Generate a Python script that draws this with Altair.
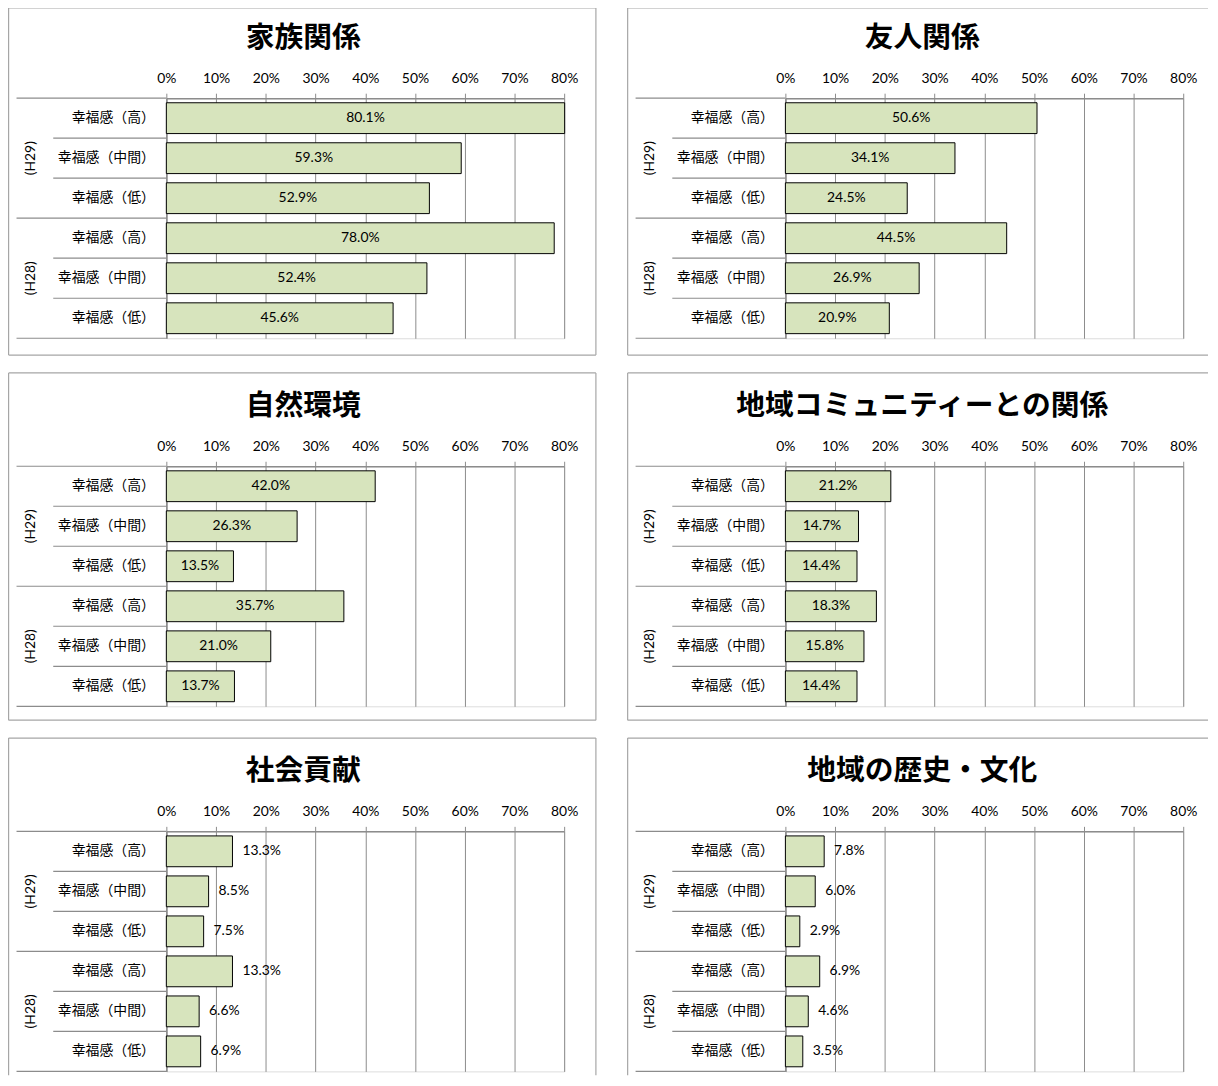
import altair as alt
import pandas as pd

# ---- data ----
titles = ["家族関係", "友人関係", "自然環境", "地域コミュニティーとの関係", "社会貢献", "地域の歴史・文化"]
years = ["(H29)", "(H28)"]
levels = ["幸福感（高）", "幸福感（中間）", "幸福感（低）"]

v_family = [80.1, 59.3, 52.9, 78.0, 52.4, 45.6]
v_friends = [50.6, 34.1, 24.5, 44.5, 26.9, 20.9]
v_nature = [42.0, 26.3, 13.5, 35.7, 21.0, 13.7]
v_community = [21.2, 14.7, 14.4, 18.3, 15.8, 14.4]
v_social = [13.3, 8.5, 7.5, 13.3, 6.6, 6.9]
v_history = [7.8, 6.0, 2.9, 6.9, 4.6, 3.5]
series = [v_family, v_friends, v_nature, v_community, v_social, v_history]
labels_outside = [False, False, False, False, True, True]
x_ticks = [0, 10, 20, 30, 40, 50, 60, 70, 80]

# ---- style ----
FILL = "#D7E4BD"
GRAY = "#8C8C8C"
BORDER = "#A6A6A6"
JP = "Noto Sans CJK JP"
NUM = "Lato"
W, H = 401, 242

keys = [f"{y}|{l}" for y in years for l in levels]


def panel(title, vals, outside, col, row):
    df = pd.DataFrame({
        "key": keys,
        "year": [y for y in years for _ in levels],
        "level": levels * 2,
        "first": [i == 0 for _ in years for i in range(len(levels))],
        "last": [False] * (len(keys) - 1) + [True],
        "value": vals,
    })
    yscale = alt.Scale(domain=keys, paddingInner=0, paddingOuter=0)
    xscale = alt.Scale(domain=[0, 80], nice=False, zero=True)
    yaxis = alt.Axis(
        title=None, labelExpr="split(datum.label, '|')[1]", ticks=False,
        labelPadding=12, labelFont=JP, labelFontSize=14, labelColor="black",
        domainColor=GRAY, domainWidth=1.5, grid=False,
    )
    xaxis = alt.Axis(
        title=None, orient="top", values=x_ticks, labelExpr="datum.value + '%'",
        labelFont=NUM, labelFontSize=14, labelColor="black", labelPadding=8,
        labelFlush=False, labelOverlap=False,
        tickSize=5, tickColor=GRAY, domainColor=GRAY, domainWidth=1.5,
        grid=True, gridColor=GRAY, gridWidth=1,
    )

    def yenc(**kw):
        return alt.Y("key:N", scale=yscale, axis=yaxis, **kw)

    def xenc(field):
        return alt.X(field, scale=xscale, axis=xaxis)

    base = alt.Chart(df)

    bars = base.mark_bar(
        fill=FILL, stroke="black", strokeWidth=1,
        height=alt.RelativeBandSize(band=0.77),
    ).encode(x=xenc("value:Q"), y=yenc())

    if outside:
        txt = base.transform_calculate(
            lab="format(datum.value, '.1f') + '%'"
        ).mark_text(font=NUM, fontSize=14, color="black", align="left", dx=10).encode(
            x=xenc("value:Q"), y=yenc(), text="lab:N")
    else:
        txt = base.transform_calculate(
            lab="format(datum.value, '.1f') + '%'", mid="datum.value / 2"
        ).mark_text(font=NUM, fontSize=14, color="black", align="center").encode(
            x=xenc("mid:Q"), y=yenc(), text="lab:N")

    rule_cat = base.transform_filter("!datum.first").mark_rule(
        color=GRAY, strokeWidth=1.2).encode(
        y=yenc(bandPosition=0), x=alt.value(-114), x2=alt.value(0))
    rule_grp = base.transform_filter("datum.first").mark_rule(
        color=GRAY, strokeWidth=1.2).encode(
        y=yenc(bandPosition=0), x=alt.value(-151), x2=alt.value(0))
    rule_bot = base.transform_filter("datum.last").mark_rule(
        color=GRAY, strokeWidth=1.2).encode(
        y=yenc(bandPosition=1), x=alt.value(-151), x2=alt.value(0))

    grp = base.transform_filter("datum.level == '幸福感（中間）'").mark_text(
        font=NUM, fontSize=14, color="black", angle=270, align="center",
        baseline="middle").encode(x=alt.value(-136), y=yenc(), text="year:N")

    one = alt.Chart(pd.DataFrame({"t": [title]}))
    ttl = one.mark_text(font=JP, fontSize=29, fontWeight="bold", color="black",
                        align="center", baseline="middle").encode(
        x=alt.value(138), y=alt.value(-61), text="t:N")

    # panel frame (right column is cut by the page edge, last row by the page bottom)
    left = -159
    top = -91 if row == 0 else -94
    right = 433 if col == 0 else 426
    bottom = {0: 259, 1: 256, 2: 246}[row]
    frame = [
        one.mark_rule(color=BORDER, strokeWidth=1.2).encode(
            x=alt.value(left), x2=alt.value(right), y=alt.value(top)),
        one.mark_rule(color=BORDER, strokeWidth=1.2).encode(
            x=alt.value(left), y=alt.value(top), y2=alt.value(bottom)),
    ]
    if col == 0:
        frame.append(one.mark_rule(color=BORDER, strokeWidth=1.2).encode(
            x=alt.value(right), y=alt.value(top), y2=alt.value(bottom)))
    if row < 2:
        frame.append(one.mark_rule(color=BORDER, strokeWidth=1.2).encode(
            x=alt.value(left), x2=alt.value(right), y=alt.value(bottom)))

    return alt.layer(*frame, bars, txt, rule_cat, rule_grp, rule_bot, grp, ttl).properties(
        width=W, height=H)


panels = [panel(t, v, o, i % 2, i // 2)
          for i, (t, v, o) in enumerate(zip(titles, series, labels_outside))]
rows = [alt.hconcat(panels[i], panels[i + 1], spacing=28) for i in (0, 2, 4)]
chart = alt.vconcat(*rows, spacing=14).properties(
    padding={"top": -6.4, "left": -1.4, "right": 0, "bottom": 0}
).configure_view(strokeWidth=0).configure(background="white")

chart.save("out.html", embed_options={"renderer": "svg", "actions": False})
